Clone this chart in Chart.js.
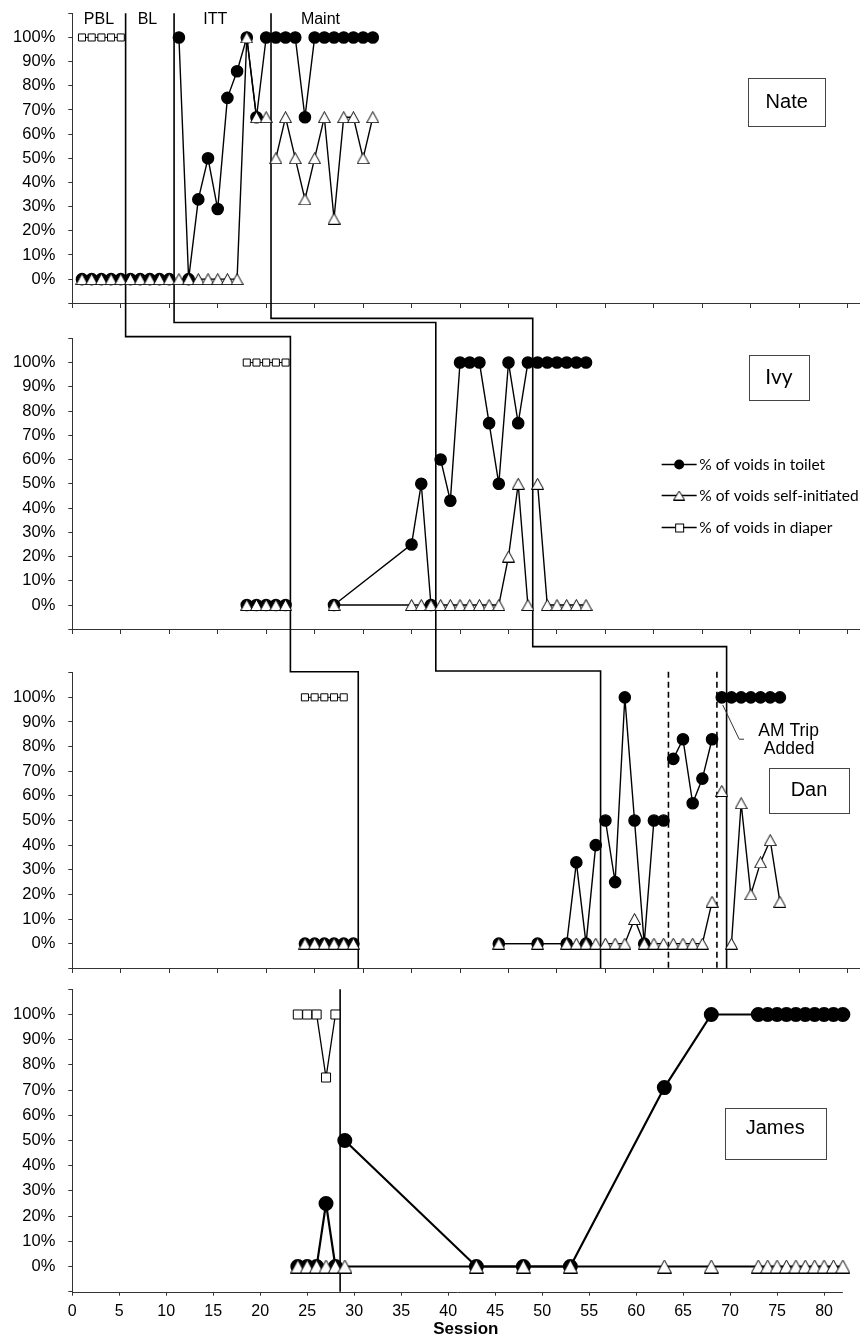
<!DOCTYPE html>
<html>
<head>
<meta charset="utf-8">
<script src="https://cdn.jsdelivr.net/npm/chart.js@4.4.1/dist/chart.umd.min.js"></script>
<style>
  html, body { margin: 0; padding: 0; background: #fff; overflow: hidden; }
</style>
</head>
<body>
<canvas id="chart" width="868" height="1342"></canvas>
<script>
// ---- data (sessions, % values) ----
const nateSessions = [1,2,3,4,5,6,7,8,9,10,11,12,13,14,15,16,17,18,19,20,21,22,23,24,25,26,27,28,29,30,31];
const nateToilet = [0,0,0,0,0,0,0,0,0,0,100,0,33,50,29,75,86,100,67,100,100,100,100,67,100,100,100,100,100,100,100];
const nateSelf = [0,0,0,0,0,0,0,0,0,0,0,0,0,0,0,0,0,100,67,67,50,67,50,33,50,67,25,67,67,50,67];
const nateDiaperSessions = [1,2,3,4,5];
const nateDiaper = [100,100,100,100,100];
const natePhases = [5.5, 10.5, 20.5];

const ivySessions = [18,19,20,21,22,27,35,36,37,38,39,40,41,42,43,44,45,46,47,48,49,50,51,52,53];
const ivyToilet = [0,0,0,0,0,0,25,50,0,60,43,100,100,100,75,50,100,75,100,100,100,100,100,100,100];
const ivySelf = [0,0,0,0,0,0,0,0,0,0,0,0,0,0,0,0,20,50,0,50,0,0,0,0,0];
const ivyDiaperSessions = [18,19,20,21,22];
const ivyDiaper = [100,100,100,100,100];
const ivyPhases = [22.5, 37.5, 47.5];

const danSessions = [24,25,26,27,28,29,44,48,51,52,53,54,55,56,57,58,59,60,61,62,63,64,65,66,67,68,69,70,71,72,73];
const danToilet = [0,0,0,0,0,0,0,0,0,33,0,40,50,25,100,50,0,50,50,75,83,57,67,83,100,100,100,100,100,100,100];
const danSelf = [0,0,0,0,0,0,0,0,0,0,0,0,0,0,0,10,0,0,0,0,0,0,0,17,62,0,57,20,33,42,17];
const danDiaperSessions = [24,25,26,27,28];
const danDiaper = [100,100,100,100,100];
const danPhases = [29.5, 54.5, 67.5];
const danDashed = [61.5, 66.5];

const jamesSessions = [24,25,26,27,28,29,43,48,53,63,68,73,74,75,76,77,78,79,80,81,82];
const jamesToilet = [0,0,0,25,0,50,0,0,0,71,100,100,100,100,100,100,100,100,100,100,100];
const jamesSelf = [0,0,0,0,0,0,0,0,0,0,0,0,0,0,0,0,0,0,0,0,0];
const jamesDiaperSessions = [24,25,26,27,28];
const jamesDiaper = [100,100,100,75,100];
const jamesPhases = [28.5];

// where the stepped phase lines cross between panels (in % of the lower panel)
const joinNateIvy = [110.7, 116.5, 118.2];
const joinIvyDan = [110.4, 110.7, 120.6];

const phaseNames = ['PBL', 'BL', 'ITT', 'Maint'];
const seriesNames = ['% of voids in toilet', '% of voids self-initiated', '% of voids in diaper'];

const AXIS = '#333';
const FONT = '"Liberation Sans", Arial, sans-serif';

function triangleMarker(w, h) {
  const c = document.createElement('canvas');
  c.width = w; c.height = h;
  const g = c.getContext('2d');
  g.fillStyle = '#fff'; g.strokeStyle = '#000'; g.lineWidth = 1;
  g.beginPath();
  g.moveTo(w / 2, 0.5); g.lineTo(w - 0.5, h - 0.5); g.lineTo(0.5, h - 0.5);
  g.closePath(); g.fill(); g.stroke();
  return c;
}
const triSmall = triangleMarker(13, 12);
const triBig = triangleMarker(15, 14);

// points with a null at each phase change so the line breaks there
function points(sessions, values, breaks) {
  const pts = sessions.map((s, i) => ({x: s, y: values[i]}));
  breaks.forEach(b => pts.push({x: b, y: null}));
  return pts.sort((a, b) => a.x - b.x);
}

function panelSets(id, sessions, toilet, self, dSessions, diaper, breaks, big) {
  const lw = big ? 2.2 : 1.4;
  return [
    { data: points(sessions, self, breaks), xAxisID: 'x' + id, yAxisID: 'y' + id,
      borderColor: '#000', borderWidth: lw, pointStyle: big ? triBig : triSmall, order: 0 },
    { data: points(sessions, toilet, breaks), xAxisID: 'x' + id, yAxisID: 'y' + id,
      borderColor: '#000', borderWidth: lw, pointStyle: 'circle', pointRadius: big ? 6.4 : 5.6,
      pointBackgroundColor: '#000', pointBorderColor: '#000', order: 1 },
    { data: points(dSessions, diaper, breaks), xAxisID: 'x' + id, yAxisID: 'y' + id,
      borderColor: '#000', borderWidth: big ? 1.3 : 1, pointStyle: 'rect', pointRadius: big ? 6.4 : 5,
      pointBackgroundColor: '#fff', pointBorderColor: '#000', pointBorderWidth: 1, order: 2 }
  ];
}

function yAxis(weight, stackWeight) {
  return {
    type: 'linear', position: 'left', stack: 'panels', weight, stackWeight,
    min: -10, max: 110,
    border: {color: AXIS, width: 1},
    grid: {drawOnChartArea: false, tickLength: 4, color: AXIS},
    ticks: {stepSize: 10, padding: 13, autoSkip: false, color: '#000',
            font: {family: FONT, size: 16.5},
            callback: v => (v >= 0 && v <= 100) ? v + '%' : ''},
    afterFit: s => { s.width = 72.3; s.paddingTop = 0; s.paddingBottom = 0; }
  };
}

function gapAxis(weight, stackWeight) {
  return {
    type: 'linear', position: 'left', stack: 'panels', weight, stackWeight,
    border: {display: false}, grid: {display: false}, ticks: {display: false},
    afterFit: s => { s.width = 72.3; s.paddingTop = 0; s.paddingBottom = 0; }
  };
}

function topXAxis(yId) {
  return {
    type: 'linear', axis: 'x', position: {[yId]: -10}, min: 0, max: 81.2,
    border: {color: AXIS, width: 1},
    grid: {drawOnChartArea: false, tickLength: 4, color: AXIS},
    ticks: {stepSize: 5, includeBounds: false, autoSkip: false, callback: () => ''},
    afterFit: s => { s.paddingLeft = 0; s.paddingRight = 0; }
  };
}

const overlay = {
  id: 'overlay',
  beforeDatasetsDraw(chart) {
    const c = chart.ctx, sc = chart.scales;
    const X = v => sc.xNate.getPixelForValue(v);
    c.save();
    c.strokeStyle = '#000';
    c.lineWidth = 1.6;
    for (let i = 0; i < natePhases.length; i++) {
      c.beginPath();
      c.moveTo(X(natePhases[i]), sc.yNate.getPixelForValue(110));
      c.lineTo(X(natePhases[i]), sc.yIvy.getPixelForValue(joinNateIvy[i]));
      c.lineTo(sc.xIvy.getPixelForValue(ivyPhases[i]), sc.yIvy.getPixelForValue(joinNateIvy[i]));
      c.lineTo(sc.xIvy.getPixelForValue(ivyPhases[i]), sc.yDan.getPixelForValue(joinIvyDan[i]));
      c.lineTo(sc.xDan.getPixelForValue(danPhases[i]), sc.yDan.getPixelForValue(joinIvyDan[i]));
      c.lineTo(sc.xDan.getPixelForValue(danPhases[i]), sc.yDan.getPixelForValue(-10));
      c.stroke();
    }
    jamesPhases.forEach(p => {
      c.beginPath();
      c.moveTo(sc.xJames.getPixelForValue(p), sc.yJames.getPixelForValue(110));
      c.lineTo(sc.xJames.getPixelForValue(p), sc.yJames.getPixelForValue(-10));
      c.stroke();
    });
    c.setLineDash([6, 4]);
    danDashed.forEach(p => {
      c.beginPath();
      c.moveTo(sc.xDan.getPixelForValue(p), sc.yDan.getPixelForValue(110.4));
      c.lineTo(sc.xDan.getPixelForValue(p), sc.yDan.getPixelForValue(-10));
      c.stroke();
    });
    c.restore();
  },
  afterDraw(chart) {
    const c = chart.ctx, sc = chart.scales;
    c.save();
    // James session axis line, 0 to 82
    c.strokeStyle = AXIS; c.lineWidth = 1;
    const yb = Math.round(sc.yJames.getPixelForValue(-10)) + 0.5;
    c.beginPath();
    c.moveTo(sc.xJames.getPixelForValue(0), yb);
    c.lineTo(sc.xJames.getPixelForValue(82), yb);
    c.stroke();

    // phase labels
    c.fillStyle = '#000';
    c.textAlign = 'center'; c.textBaseline = 'middle';
    c.font = '16px ' + FONT;
    [2.75, 7.75, 14.75, 25.6].forEach((s, i) => {
      c.fillText(phaseNames[i], sc.xNate.getPixelForValue(s), sc.yNate.getPixelForValue(107.2));
    });

    // participant boxes
    function box(xId, yId, sx, sy, w, h, text, font, dy) {
      const cx = sc[xId].getPixelForValue(sx), cy = sc[yId].getPixelForValue(sy);
      c.fillStyle = '#fff'; c.strokeStyle = '#444'; c.lineWidth = 1;
      c.fillRect(cx - w / 2, cy - h / 2, w, h);
      c.strokeRect(Math.round(cx - w / 2) + 0.5, Math.round(cy - h / 2) + 0.5, w, h);
      c.fillStyle = '#000'; c.font = font;
      c.fillText(text, cx, cy + dy);
    }
    box('xNate', 'yNate', 73.7, 73.2, 77, 48, 'Nate', '20px ' + FONT, 0);
    box('xIvy', 'yIvy', 72.9, 93.8, 60, 45, 'Ivy', '21px Lato, sans-serif', 0);
    box('xDan', 'yDan', 76.0, 62.1, 80, 45, 'Dan', '20px ' + FONT, 0);
    box('xJames', 'yJames', 74.8, 52.7, 101, 51, 'James', '20px ' + FONT, -5);

    // AM Trip Added callout
    c.strokeStyle = '#333'; c.lineWidth = 1;
    c.beginPath();
    c.moveTo(sc.xDan.getPixelForValue(67.1), sc.yDan.getPixelForValue(96.9));
    c.lineTo(sc.xDan.getPixelForValue(68.8), sc.yDan.getPixelForValue(83.0));
    c.lineTo(sc.xDan.getPixelForValue(69.3), sc.yDan.getPixelForValue(83.0));
    c.stroke();
    c.fillStyle = '#000'; c.font = '17.5px ' + FONT;
    c.fillText('AM Trip', sc.xDan.getPixelForValue(73.9), sc.yDan.getPixelForValue(86.1));
    c.fillText('Added', sc.xDan.getPixelForValue(73.95), sc.yDan.getPixelForValue(78.9));

    // legend inside the Ivy panel
    const lx = sc.xIvy.getPixelForValue(60.8);
    [58.0, 45.4, 32.3].forEach((sy, i) => {
      const ly = Math.round(sc.yIvy.getPixelForValue(sy)) + 0.5;
      c.strokeStyle = '#000'; c.lineWidth = 1.3;
      c.beginPath(); c.moveTo(lx, ly); c.lineTo(lx + 35, ly); c.stroke();
      const mx = lx + 17.5;
      c.lineWidth = 1;
      if (i === 0) {
        c.fillStyle = '#000';
        c.beginPath(); c.arc(mx, ly, 5, 0, Math.PI * 2); c.fill();
      } else if (i === 1) {
        c.drawImage(triangleMarker(12, 10), mx - 6, ly - 5);
      } else {
        c.fillStyle = '#fff'; c.fillRect(mx - 4, ly - 4, 8, 8);
        c.strokeRect(mx - 3.5, ly - 3.5, 8, 8);
      }
      c.fillStyle = '#000'; c.textAlign = 'left'; c.textBaseline = 'middle';
      c.font = '15.5px Lato, sans-serif';
      c.fillText(seriesNames[i], lx + 37.7, ly);
    });
    c.restore();
  }
};

const ctx = document.getElementById('chart').getContext('2d');
const chart = new Chart(ctx, {
  type: 'line',
  data: {
    datasets: [
      ...panelSets('Nate', nateSessions, nateToilet, nateSelf, nateDiaperSessions, nateDiaper, natePhases, false),
      ...panelSets('Ivy', ivySessions, ivyToilet, ivySelf, ivyDiaperSessions, ivyDiaper, ivyPhases, false),
      ...panelSets('Dan', danSessions, danToilet, danSelf, danDiaperSessions, danDiaper, danPhases.concat(danDashed), false),
      ...panelSets('James', jamesSessions, jamesToilet, jamesSelf, jamesDiaperSessions, jamesDiaper, jamesPhases, true)
    ]
  },
  options: {
    responsive: false,
    animation: false,
    spanGaps: false,
    layout: {padding: {top: 13.3, left: 0, right: 0, bottom: 0}},
    plugins: {legend: {display: false}, tooltip: {enabled: false}},
    elements: {line: {tension: 0}, point: {pointRadius: 6}},
    scales: {
      yNate: yAxis(7, 290),
      gap1: gapAxis(6, 35),
      yIvy: yAxis(5, 291),
      gap2: gapAxis(4, 43.4),
      yDan: yAxis(3, 295.6),
      gap3: gapAxis(2, 21),
      yJames: yAxis(1, 302.4),
      xNate: topXAxis('yNate'),
      xIvy: topXAxis('yIvy'),
      xDan: topXAxis('yDan'),
      xJames: {
        type: 'linear', axis: 'x', position: 'bottom', min: 0, max: 83.76,
        border: {display: false},
        grid: {drawOnChartArea: false, tickLength: 4, color: AXIS},
        ticks: {stepSize: 5, includeBounds: false, autoSkip: false, maxRotation: 0, padding: 6,
                color: '#000', font: {family: FONT, size: 16}},
        title: {display: true, text: 'Session', color: '#000',
                font: {family: FONT, size: 17, weight: 'bold'}, padding: {top: 0, bottom: 2}},
        afterFit: s => { s.height = 50.3; s.paddingLeft = 0; s.paddingRight = 0; }
      }
    }
  },
  plugins: [overlay]
});
</script>
</body>
</html>
